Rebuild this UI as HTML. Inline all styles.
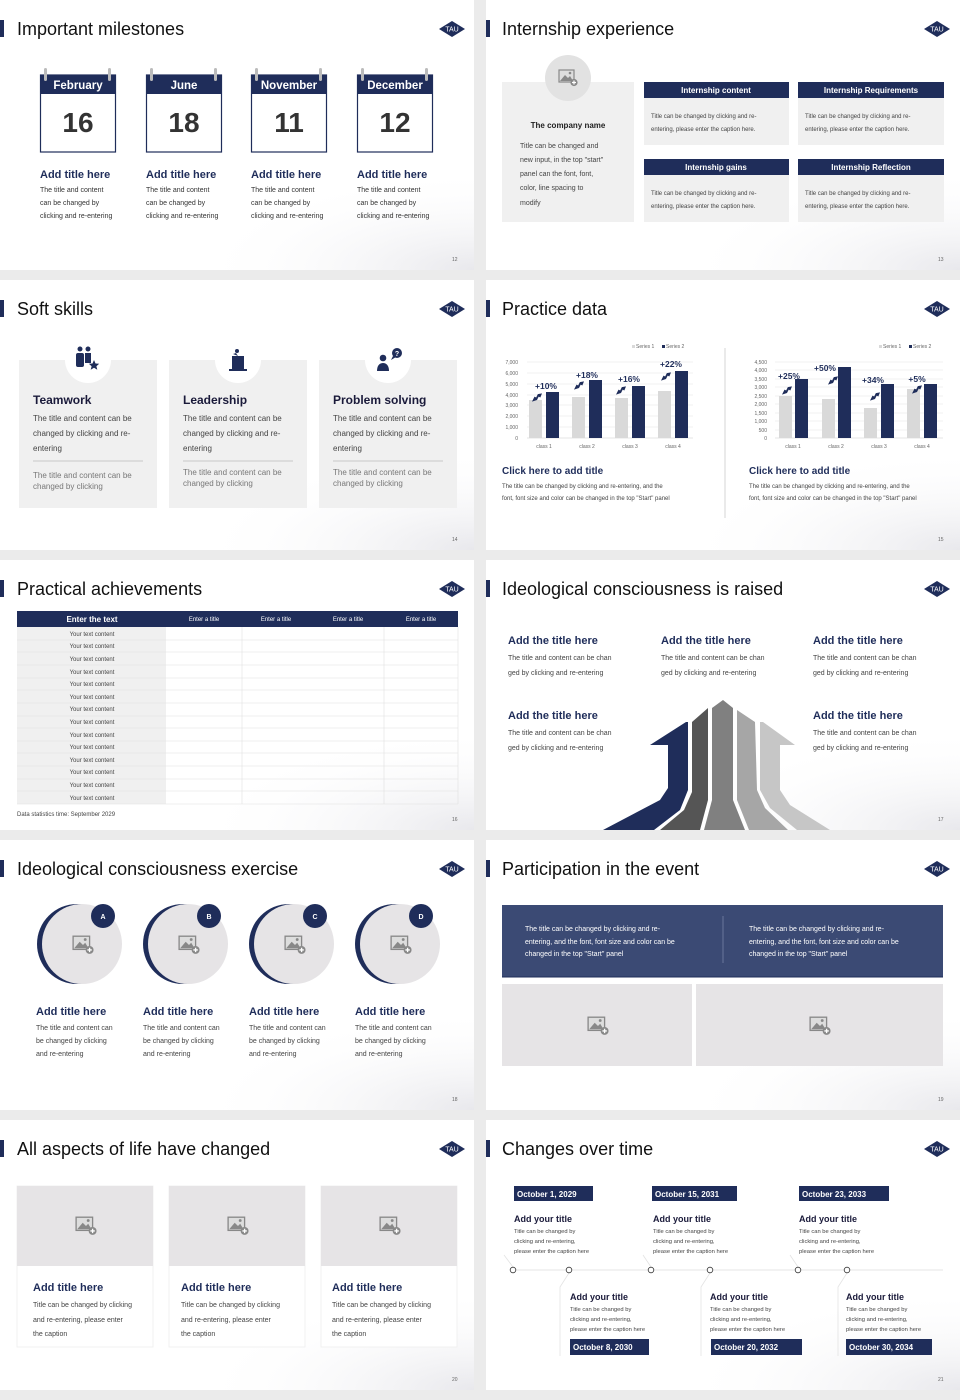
<!DOCTYPE html>
<html><head><meta charset="utf-8"><style>
html,body{margin:0;padding:0;background:#ebebeb;}
svg{display:block;font-family:"Liberation Sans",Arial,sans-serif;}
</style></head><body>
<svg width="960" height="1400" viewBox="0 0 960 1400" xmlns="http://www.w3.org/2000/svg">
<defs>
<radialGradient id="wave" cx="1" cy="1" r="1"><stop offset="0" stop-color="#e8e8ec"/><stop offset="1" stop-color="#fff" stop-opacity="0"/></radialGradient>
<symbol id="img" viewBox="0 0 20 18"><rect x="1" y="1" width="15" height="12" fill="#ddd" stroke="#888" stroke-width="1.2"/><path d="M2 12 L7 6 L10 9 L12 7 L15 12Z" fill="#888"/><circle cx="12" cy="4" r="1.3" fill="#888"/><circle cx="16" cy="13.5" r="3.6" fill="#888"/><path d="M16 11.5V15.5M14 13.5H18" stroke="#fff" stroke-width="1.2"/></symbol>
<symbol id="logo" viewBox="0 0 26 16"><path d="M0 8 L13 0 L26 8 L13 16Z" fill="#1f2d5a"/><text x="13" y="10.5" font-size="7" fill="#fff" text-anchor="middle" font-family="Liberation Sans,sans-serif">TAU</text></symbol>
<symbol id="pa" viewBox="0 0 12 10"><path d="M0 10 L3 4 L5 5 L7 1 L12 0 L10 5 L8 4 L6 8Z" fill="#1f2d5a"/></symbol>
</defs>

<g fill="#fff">
<rect x="0" y="0" width="474" height="270"/><rect x="486" y="0" width="474" height="270"/>
<rect x="0" y="280" width="474" height="270"/><rect x="486" y="280" width="474" height="270"/>
<rect x="0" y="560" width="474" height="270"/><rect x="486" y="560" width="474" height="270"/>
<rect x="0" y="840" width="474" height="270"/><rect x="486" y="840" width="474" height="270"/>
<rect x="0" y="1120" width="474" height="270"/><rect x="486" y="1120" width="474" height="270"/>
</g>
<g fill="url(#wave)">
<rect x="194" y="170" width="280" height="100"/><rect x="680" y="170" width="280" height="100"/>
<rect x="194" y="450" width="280" height="100"/><rect x="680" y="450" width="280" height="100"/>
<rect x="194" y="730" width="280" height="100"/><rect x="680" y="730" width="280" height="100"/>
<rect x="194" y="1010" width="280" height="100"/><rect x="680" y="1010" width="280" height="100"/>
<rect x="194" y="1290" width="280" height="100"/><rect x="680" y="1290" width="280" height="100"/>
</g>

<g fill="#1f2d5a">
<rect x="0" y="20" width="4" height="17"/><rect x="486" y="20" width="4" height="17"/>
<rect x="0" y="300" width="4" height="17"/><rect x="486" y="300" width="4" height="17"/>
<rect x="0" y="580" width="4" height="17"/><rect x="486" y="580" width="4" height="17"/>
<rect x="0" y="860" width="4" height="17"/><rect x="486" y="860" width="4" height="17"/>
<rect x="0" y="1140" width="4" height="17"/><rect x="486" y="1140" width="4" height="17"/>
</g>
<g font-size="18" fill="#111">
<text x="17" y="35">Important milestones</text><text x="502" y="35">Internship experience</text>
<text x="17" y="315">Soft skills</text><text x="502" y="315">Practice data</text>
<text x="17" y="595">Practical achievements</text><text x="502" y="595">Ideological consciousness is raised</text>
<text x="17" y="875">Ideological consciousness exercise</text><text x="502" y="875">Participation in the event</text>
<text x="17" y="1155">All aspects of life have changed</text><text x="502" y="1155">Changes over time</text>
</g>
<use href="#logo" x="439" y="21" width="26" height="16"/><use href="#logo" x="924" y="21" width="26" height="16"/>
<use href="#logo" x="439" y="301" width="26" height="16"/><use href="#logo" x="924" y="301" width="26" height="16"/>
<use href="#logo" x="439" y="581" width="26" height="16"/><use href="#logo" x="924" y="581" width="26" height="16"/>
<use href="#logo" x="439" y="861" width="26" height="16"/><use href="#logo" x="924" y="861" width="26" height="16"/>
<use href="#logo" x="439" y="1141" width="26" height="16"/><use href="#logo" x="924" y="1141" width="26" height="16"/>
<g font-size="5" fill="#666">
<text x="452" y="261">12</text><text x="938" y="261">13</text>
<text x="452" y="541">14</text><text x="938" y="541">15</text>
<text x="452" y="821">16</text><text x="938" y="821">17</text>
<text x="452" y="1101">18</text><text x="938" y="1101">19</text>
<text x="452" y="1381">20</text><text x="938" y="1381">21</text>
</g>

<g>
<g transform="translate(40,0)">
<rect x="0.5" y="75" width="75" height="77" fill="#fff" stroke="#1f2d5a" stroke-width="1.2"/>
<rect x="0" y="75" width="76" height="19" fill="#1f2d5a"/>
<rect x="4" y="68" width="3" height="13" rx="1.5" fill="#bbb"/><rect x="68" y="68" width="3" height="13" rx="1.5" fill="#bbb"/>
</g>
<g transform="translate(146,0)">
<rect x="0.5" y="75" width="75" height="77" fill="#fff" stroke="#1f2d5a" stroke-width="1.2"/>
<rect x="0" y="75" width="76" height="19" fill="#1f2d5a"/>
<rect x="4" y="68" width="3" height="13" rx="1.5" fill="#bbb"/><rect x="68" y="68" width="3" height="13" rx="1.5" fill="#bbb"/>
</g>
<g transform="translate(251,0)">
<rect x="0.5" y="75" width="75" height="77" fill="#fff" stroke="#1f2d5a" stroke-width="1.2"/>
<rect x="0" y="75" width="76" height="19" fill="#1f2d5a"/>
<rect x="4" y="68" width="3" height="13" rx="1.5" fill="#bbb"/><rect x="68" y="68" width="3" height="13" rx="1.5" fill="#bbb"/>
</g>
<g transform="translate(357,0)">
<rect x="0.5" y="75" width="75" height="77" fill="#fff" stroke="#1f2d5a" stroke-width="1.2"/>
<rect x="0" y="75" width="76" height="19" fill="#1f2d5a"/>
<rect x="4" y="68" width="3" height="13" rx="1.5" fill="#bbb"/><rect x="68" y="68" width="3" height="13" rx="1.5" fill="#bbb"/>
</g>
</g>
<g font-size="11.5" font-weight="bold" fill="#fff" text-anchor="middle">
<text x="78" y="89">February</text><text x="184" y="89">June</text><text x="289" y="89">November</text><text x="395" y="89">December</text>
</g>
<g font-size="28" font-weight="bold" fill="#333" text-anchor="middle">
<text x="78" y="132">16</text><text x="184" y="132">18</text><text x="289" y="132">11</text><text x="395" y="132">12</text>
</g>
<g font-size="11" font-weight="bold" fill="#1f2d5a">
<text x="40" y="178">Add title here</text><text x="146" y="178">Add title here</text><text x="251" y="178">Add title here</text><text x="357" y="178">Add title here</text>
</g>
<g font-size="7" fill="#333">
<text x="40" y="192">The title and content</text><text x="40" y="205">can be changed by</text><text x="40" y="218">clicking and re-entering</text>
<text x="146" y="192">The title and content</text><text x="146" y="205">can be changed by</text><text x="146" y="218">clicking and re-entering</text>
<text x="251" y="192">The title and content</text><text x="251" y="205">can be changed by</text><text x="251" y="218">clicking and re-entering</text>
<text x="357" y="192">The title and content</text><text x="357" y="205">can be changed by</text><text x="357" y="218">clicking and re-entering</text>
</g>

<rect x="502" y="82" width="132" height="140" fill="#f0f0f0"/>
<circle cx="568" cy="78" r="23" fill="#e2e2e2"/>
<use href="#img" x="558" y="69" width="20" height="18"/>
<text x="568" y="128" font-size="8" font-weight="bold" fill="#222" text-anchor="middle">The company name</text>
<g font-size="7" fill="#444"><text x="520" y="148">Title can be changed and</text><text x="520" y="162">new input, in the top "start"</text><text x="520" y="176">panel can the font, font,</text><text x="520" y="190">color, line spacing to</text><text x="520" y="205">modify</text></g>
<g fill="#f0f0f0"><rect x="644" y="98" width="145" height="47"/><rect x="798" y="98" width="146" height="47"/><rect x="644" y="175" width="145" height="47"/><rect x="798" y="175" width="146" height="47"/></g>
<g fill="#1f2d5a"><rect x="644" y="82" width="145" height="16"/><rect x="798" y="82" width="146" height="16"/><rect x="644" y="159" width="145" height="16"/><rect x="798" y="159" width="146" height="16"/></g>
<g font-size="8" font-weight="bold" fill="#fff" text-anchor="middle"><text x="716" y="93">Internship content</text><text x="871" y="93">Internship Requirements</text><text x="716" y="170">Internship gains</text><text x="871" y="170">Internship Reflection</text></g>
<g font-size="6" fill="#444">
<text x="651" y="118">Title can be changed by clicking and re-</text><text x="651" y="131">entering, please enter the caption here.</text>
<text x="805" y="118">Title can be changed by clicking and re-</text><text x="805" y="131">entering, please enter the caption here.</text>
<text x="651" y="195">Title can be changed by clicking and re-</text><text x="651" y="208">entering, please enter the caption here.</text>
<text x="805" y="195">Title can be changed by clicking and re-</text><text x="805" y="208">entering, please enter the caption here.</text>
</g>

<g fill="#f0f0f0"><rect x="19" y="360" width="138" height="148"/><rect x="169" y="360" width="138" height="148"/><rect x="319" y="360" width="138" height="148"/></g>
<g fill="#fff"><circle cx="88" cy="360" r="23"/><circle cx="238" cy="360" r="23"/><circle cx="388" cy="360" r="23"/></g>
<g fill="#1f2d5a">
<circle cx="80" cy="349" r="2.5"/><circle cx="88" cy="349" r="2.5"/><rect x="76" y="353" width="8" height="14" rx="2"/><rect x="85" y="353" width="6" height="10"/><path d="M94 360l1.5 3.5 3.7.3-2.8 2.4.9 3.6-3.3-2-3.3 2 .9-3.6-2.8-2.4 3.7-.3z"/>
<circle cx="237" cy="351" r="2"/><rect x="232" y="356" width="12" height="13"/><rect x="229" y="369" width="18" height="2"/><path d="M233 354l3-1 2 3z"/>
<circle cx="383" cy="358" r="3.3"/><path d="M377 371c0-6 3-8 6-8s6 2 6 8z"/><circle cx="397" cy="353" r="5"/><path d="M393 356l-2 4 5-3z"/>
</g>
<text x="397" y="356" font-size="7" font-weight="bold" fill="#fff" text-anchor="middle">?</text>
<g font-size="12" font-weight="bold" fill="#1a1a3a"><text x="33" y="404">Teamwork</text><text x="183" y="404">Leadership</text><text x="333" y="404">Problem solving</text></g>
<g font-size="8" fill="#444">
<text x="33" y="421">The title and content can be</text><text x="33" y="436">changed by clicking and re-</text><text x="33" y="451">entering</text>
<text x="183" y="421">The title and content can be</text><text x="183" y="436">changed by clicking and re-</text><text x="183" y="451">entering</text>
<text x="333" y="421">The title and content can be</text><text x="333" y="436">changed by clicking and re-</text><text x="333" y="451">entering</text>
</g>
<g stroke="#bbb" stroke-width="0.8"><line x1="33" y1="461" x2="143" y2="461"/><line x1="183" y1="461" x2="293" y2="461"/><line x1="333" y1="461" x2="443" y2="461"/></g>
<g font-size="8" fill="#777">
<text x="33" y="478">The title and content can be</text><text x="33" y="489">changed by clicking</text>
<text x="183" y="475">The title and content can be</text><text x="183" y="486">changed by clicking</text>
<text x="333" y="475">The title and content can be</text><text x="333" y="486">changed by clicking</text>
</g>

<line x1="725" y1="348" x2="725" y2="518" stroke="#ccc" stroke-width="0.8"/>
<g stroke="#e6e6e6" stroke-width="0.6">
<line x1="527" y1="362" x2="693" y2="362"/><line x1="527" y1="373" x2="693" y2="373"/><line x1="527" y1="384" x2="693" y2="384"/><line x1="527" y1="395" x2="693" y2="395"/><line x1="527" y1="405" x2="693" y2="405"/><line x1="527" y1="416" x2="693" y2="416"/><line x1="527" y1="427" x2="693" y2="427"/>
<line x1="775" y1="362" x2="943" y2="362"/><line x1="775" y1="370" x2="943" y2="370"/><line x1="775" y1="379" x2="943" y2="379"/><line x1="775" y1="387" x2="943" y2="387"/><line x1="775" y1="396" x2="943" y2="396"/><line x1="775" y1="404" x2="943" y2="404"/><line x1="775" y1="413" x2="943" y2="413"/><line x1="775" y1="421" x2="943" y2="421"/><line x1="775" y1="430" x2="943" y2="430"/>
</g>
<line x1="527" y1="438" x2="693" y2="438" stroke="#ccc" stroke-width="0.6"/><line x1="775" y1="438" x2="943" y2="438" stroke="#ccc" stroke-width="0.6"/>
<g fill="#d9d9d9">
<rect x="529" y="400" width="13" height="38"/><rect x="572" y="397" width="13" height="41"/><rect x="615" y="398" width="13" height="40"/><rect x="658" y="391" width="13" height="47"/>
<rect x="779" y="396" width="13" height="42"/><rect x="822" y="399" width="13" height="39"/><rect x="864" y="408" width="13" height="30"/><rect x="907" y="389" width="13" height="49"/>
</g>
<g fill="#1f2d5a">
<rect x="546" y="392" width="13" height="46"/><rect x="589" y="380" width="13" height="58"/><rect x="632" y="386" width="13" height="52"/><rect x="675" y="371" width="13" height="67"/>
<rect x="795" y="379" width="13" height="59"/><rect x="838" y="367" width="13" height="71"/><rect x="881" y="384" width="13" height="54"/><rect x="924" y="384" width="13" height="54"/>
</g>
<g font-size="5" fill="#666" text-anchor="end">
<text x="518" y="364">7,000</text><text x="518" y="375">6,000</text><text x="518" y="386">5,000</text><text x="518" y="397">4,000</text><text x="518" y="407">3,000</text><text x="518" y="418">2,000</text><text x="518" y="429">1,000</text><text x="518" y="440">0</text>
<text x="767" y="364">4,500</text><text x="767" y="372">4,000</text><text x="767" y="381">3,500</text><text x="767" y="389">3,000</text><text x="767" y="398">2,500</text><text x="767" y="406">2,000</text><text x="767" y="415">1,500</text><text x="767" y="423">1,000</text><text x="767" y="432">500</text><text x="767" y="440">0</text>
</g>
<g font-size="5" fill="#666" text-anchor="middle">
<text x="544" y="448">class 1</text><text x="587" y="448">class 2</text><text x="630" y="448">class 3</text><text x="673" y="448">class 4</text>
<text x="793" y="448">class 1</text><text x="836" y="448">class 2</text><text x="879" y="448">class 3</text><text x="922" y="448">class 4</text>
</g>
<g font-size="5" fill="#666"><rect x="632" y="345" width="3" height="3" fill="#d9d9d9"/><text x="636" y="348">Series 1</text><rect x="662" y="345" width="3" height="3" fill="#1f2d5a"/><text x="666" y="348">Series 2</text>
<rect x="879" y="345" width="3" height="3" fill="#d9d9d9"/><text x="883" y="348">Series 1</text><rect x="909" y="345" width="3" height="3" fill="#1f2d5a"/><text x="913" y="348">Series 2</text></g>
<g font-size="8.5" font-weight="bold" fill="#1f2d5a" text-anchor="middle">
<text x="546" y="389">+10%</text><text x="587" y="378">+18%</text><text x="629" y="382">+16%</text><text x="671" y="367">+22%</text>
<text x="789" y="379">+25%</text><text x="825" y="371">+50%</text><text x="873" y="383">+34%</text><text x="917" y="382">+5%</text>
</g>
<g>
<use href="#pa" x="532" y="393" width="10" height="9"/><use href="#pa" x="574" y="381" width="10" height="9"/><use href="#pa" x="616" y="386" width="10" height="9"/><use href="#pa" x="661" y="372" width="10" height="9"/>
<use href="#pa" x="782" y="386" width="10" height="9"/><use href="#pa" x="828" y="376" width="10" height="9"/><use href="#pa" x="870" y="392" width="10" height="9"/><use href="#pa" x="912" y="385" width="10" height="9"/>
</g>
<g font-size="10" font-weight="bold" fill="#1f2d5a"><text x="502" y="474">Click here to add title</text><text x="749" y="474">Click here to add title</text></g>
<g font-size="6" fill="#444">
<text x="502" y="488">The title can be changed by clicking and re-entering, and the</text><text x="502" y="500">font, font size and color can be changed in the top "Start" panel</text>
<text x="749" y="488">The title can be changed by clicking and re-entering, and the</text><text x="749" y="500">font, font size and color can be changed in the top "Start" panel</text>
</g>

<rect x="17" y="627" width="149" height="177" fill="#f0f0f0"/>
<rect x="17" y="611" width="441" height="16" fill="#1f2d5a"/>
<g stroke="#e0e0e0" stroke-width="0.6">
<line x1="17" y1="640" x2="458" y2="640"/><line x1="17" y1="652" x2="458" y2="652"/><line x1="17" y1="665" x2="458" y2="665"/><line x1="17" y1="678" x2="458" y2="678"/><line x1="17" y1="690" x2="458" y2="690"/><line x1="17" y1="703" x2="458" y2="703"/><line x1="17" y1="716" x2="458" y2="716"/><line x1="17" y1="728" x2="458" y2="728"/><line x1="17" y1="741" x2="458" y2="741"/><line x1="17" y1="753" x2="458" y2="753"/><line x1="17" y1="766" x2="458" y2="766"/><line x1="17" y1="779" x2="458" y2="779"/><line x1="17" y1="791" x2="458" y2="791"/><line x1="17" y1="804" x2="458" y2="804"/>
<line x1="242" y1="627" x2="242" y2="804"/><line x1="384" y1="627" x2="384" y2="804"/><line x1="458" y1="627" x2="458" y2="804"/>
</g>
<text x="92" y="622" font-size="8" font-weight="bold" fill="#fff" text-anchor="middle">Enter the text</text>
<g font-size="6" fill="#fff" text-anchor="middle"><text x="204" y="621">Enter a title</text><text x="276" y="621">Enter a title</text><text x="348" y="621">Enter a title</text><text x="421" y="621">Enter a title</text></g>
<g font-size="6" fill="#444" text-anchor="middle">
<text x="92" y="636">Your text content</text><text x="92" y="648">Your text content</text><text x="92" y="661">Your text content</text><text x="92" y="674">Your text content</text><text x="92" y="686">Your text content</text><text x="92" y="699">Your text content</text><text x="92" y="711">Your text content</text><text x="92" y="724">Your text content</text><text x="92" y="737">Your text content</text><text x="92" y="749">Your text content</text><text x="92" y="762">Your text content</text><text x="92" y="774">Your text content</text><text x="92" y="787">Your text content</text><text x="92" y="800">Your text content</text>
</g>
<text x="17" y="816" font-size="6" fill="#444">Data statistics time: September 2029</text>

<g font-size="11" font-weight="bold" fill="#1f2d5a"><text x="508" y="644">Add the title here</text><text x="661" y="644">Add the title here</text><text x="813" y="644">Add the title here</text><text x="508" y="719">Add the title here</text><text x="813" y="719">Add the title here</text></g>
<g font-size="7" fill="#444">
<text x="508" y="660">The title and content can be chan</text><text x="508" y="675">ged by clicking and re-entering</text>
<text x="661" y="660">The title and content can be chan</text><text x="661" y="675">ged by clicking and re-entering</text>
<text x="813" y="660">The title and content can be chan</text><text x="813" y="675">ged by clicking and re-entering</text>
<text x="508" y="735">The title and content can be chan</text><text x="508" y="750">ged by clicking and re-entering</text>
<text x="813" y="735">The title and content can be chan</text><text x="813" y="750">ged by clicking and re-entering</text>
</g>
<path d="M603 830 L660 800 L668 788 L668 745 L650 745 L686 722 L688 722 L688 790 L680 810 L654 830Z" fill="#1f2d5a"/>
<path d="M660 830 L684 810 L692 792 L692 722 L708 708 L708 800 L700 830Z" fill="#555"/>
<path d="M704 830 L712 800 L712 708 L723 700 L733 708 L733 800 L745 830Z" fill="#808080"/>
<path d="M749 830 L737 800 L737 710 L755 722 L757 790 L765 808 L788 830Z" fill="#a6a6a6"/>
<path d="M797 830 L770 808 L760 790 L760 722 L763 722 L795 745 L780 745 L780 790 L790 805 L830 830Z" fill="#c6c6c6"/>

<g>
<circle cx="77" cy="944" r="40" fill="#1f2d5a"/><circle cx="82" cy="944" r="40" fill="#e6e4e6"/><circle cx="103" cy="916" r="12" fill="#1f2d5a"/>
<circle cx="183" cy="944" r="40" fill="#1f2d5a"/><circle cx="188" cy="944" r="40" fill="#e6e4e6"/><circle cx="209" cy="916" r="12" fill="#1f2d5a"/>
<circle cx="289" cy="944" r="40" fill="#1f2d5a"/><circle cx="294" cy="944" r="40" fill="#e6e4e6"/><circle cx="315" cy="916" r="12" fill="#1f2d5a"/>
<circle cx="395" cy="944" r="40" fill="#1f2d5a"/><circle cx="400" cy="944" r="40" fill="#e6e4e6"/><circle cx="421" cy="916" r="12" fill="#1f2d5a"/>
<use href="#img" x="72" y="935" width="22" height="20"/><use href="#img" x="178" y="935" width="22" height="20"/><use href="#img" x="284" y="935" width="22" height="20"/><use href="#img" x="390" y="935" width="22" height="20"/>
</g>
<g font-size="7" font-weight="bold" fill="#fff" text-anchor="middle"><text x="103" y="919">A</text><text x="209" y="919">B</text><text x="315" y="919">C</text><text x="421" y="919">D</text></g>
<g font-size="11" font-weight="bold" fill="#1f2d5a"><text x="36" y="1015">Add title here</text><text x="143" y="1015">Add title here</text><text x="249" y="1015">Add title here</text><text x="355" y="1015">Add title here</text></g>
<g font-size="7" fill="#444">
<text x="36" y="1030">The title and content can</text><text x="36" y="1043">be changed by clicking</text><text x="36" y="1056">and re-entering</text>
<text x="143" y="1030">The title and content can</text><text x="143" y="1043">be changed by clicking</text><text x="143" y="1056">and re-entering</text>
<text x="249" y="1030">The title and content can</text><text x="249" y="1043">be changed by clicking</text><text x="249" y="1056">and re-entering</text>
<text x="355" y="1030">The title and content can</text><text x="355" y="1043">be changed by clicking</text><text x="355" y="1056">and re-entering</text>
</g>

<rect x="502" y="905" width="441" height="72" fill="#3b4a74"/>
<line x1="723" y1="916" x2="723" y2="963" stroke="#8a95b5" stroke-width="0.6"/>
<line x1="502" y1="977" x2="943" y2="977" stroke="#1f2d5a" stroke-width="1"/>
<g font-size="7" fill="#fff">
<text x="525" y="931">The title can be changed by clicking and re-</text><text x="525" y="944">entering, and the font, font size and color can be</text><text x="525" y="956">changed in the top "Start" panel</text>
<text x="749" y="931">The title can be changed by clicking and re-</text><text x="749" y="944">entering, and the font, font size and color can be</text><text x="749" y="956">changed in the top "Start" panel</text>
</g>
<rect x="502" y="984" width="190" height="82" fill="#e6e4e6"/><rect x="696" y="984" width="247" height="82" fill="#e6e4e6"/>
<use href="#img" x="587" y="1016" width="22" height="20"/><use href="#img" x="809" y="1016" width="22" height="20"/>

<g fill="#fff" stroke="#eee" stroke-width="0.8"><rect x="17" y="1186" width="136" height="161"/><rect x="169" y="1186" width="136" height="161"/><rect x="321" y="1186" width="136" height="161"/></g>
<g fill="#e6e4e6"><rect x="17" y="1186" width="136" height="80"/><rect x="169" y="1186" width="136" height="80"/><rect x="321" y="1186" width="136" height="80"/></g>
<use href="#img" x="75" y="1216" width="22" height="20"/><use href="#img" x="227" y="1216" width="22" height="20"/><use href="#img" x="379" y="1216" width="22" height="20"/>
<g font-size="11" font-weight="bold" fill="#1f2d5a"><text x="33" y="1291">Add title here</text><text x="181" y="1291">Add title here</text><text x="332" y="1291">Add title here</text></g>
<g font-size="7" fill="#444">
<text x="33" y="1307">Title can be changed by clicking</text><text x="33" y="1322">and re-entering, please enter</text><text x="33" y="1336">the caption</text>
<text x="181" y="1307">Title can be changed by clicking</text><text x="181" y="1322">and re-entering, please enter</text><text x="181" y="1336">the caption</text>
<text x="332" y="1307">Title can be changed by clicking</text><text x="332" y="1322">and re-entering, please enter</text><text x="332" y="1336">the caption</text>
</g>

<line x1="513" y1="1270" x2="943" y2="1270" stroke="#ddd" stroke-width="0.8"/>
<g stroke="#e3e3e3" stroke-width="0.8" fill="none">
<path d="M504 1255 L513 1267"/><path d="M643 1255 L651 1267"/><path d="M790 1255 L798 1267"/>
<path d="M569 1273 L560 1287 L560 1356"/><path d="M710 1273 L701 1287 L701 1356"/><path d="M847 1273 L838 1287 L838 1356"/>
</g>
<g fill="#fff" stroke="#333" stroke-width="0.8"><circle cx="513" cy="1270" r="2.8"/><circle cx="569" cy="1270" r="2.8"/><circle cx="651" cy="1270" r="2.8"/><circle cx="710" cy="1270" r="2.8"/><circle cx="798" cy="1270" r="2.8"/><circle cx="847" cy="1270" r="2.8"/></g>
<g fill="#1f2d5a">
<rect x="514" y="1186" width="79" height="15"/><rect x="652" y="1186" width="85" height="15"/><rect x="799" y="1186" width="90" height="15"/>
<rect x="570" y="1339" width="79" height="16"/><rect x="711" y="1339" width="91" height="16"/><rect x="846" y="1339" width="86" height="16"/>
</g>
<g font-size="8" font-weight="bold" fill="#fff">
<text x="517" y="1197">October 1, 2029</text><text x="655" y="1197">October 15, 2031</text><text x="802" y="1197">October 23, 2033</text>
<text x="573" y="1350">October 8, 2030</text><text x="714" y="1350">October 20, 2032</text><text x="849" y="1350">October 30, 2034</text>
</g>
<g font-size="9" font-weight="bold" fill="#1a1a3a">
<text x="514" y="1222">Add your title</text><text x="653" y="1222">Add your title</text><text x="799" y="1222">Add your title</text>
<text x="570" y="1300">Add your title</text><text x="710" y="1300">Add your title</text><text x="846" y="1300">Add your title</text>
</g>
<g font-size="5.8" fill="#444">
<text x="514" y="1233">Title can be changed by</text><text x="514" y="1243">clicking and re-entering,</text><text x="514" y="1253">please enter the caption here</text>
<text x="653" y="1233">Title can be changed by</text><text x="653" y="1243">clicking and re-entering,</text><text x="653" y="1253">please enter the caption here</text>
<text x="799" y="1233">Title can be changed by</text><text x="799" y="1243">clicking and re-entering,</text><text x="799" y="1253">please enter the caption here</text>
<text x="570" y="1311">Title can be changed by</text><text x="570" y="1321">clicking and re-entering,</text><text x="570" y="1331">please enter the caption here</text>
<text x="710" y="1311">Title can be changed by</text><text x="710" y="1321">clicking and re-entering,</text><text x="710" y="1331">please enter the caption here</text>
<text x="846" y="1311">Title can be changed by</text><text x="846" y="1321">clicking and re-entering,</text><text x="846" y="1331">please enter the caption here</text>
</g>
</svg>
</body></html>
